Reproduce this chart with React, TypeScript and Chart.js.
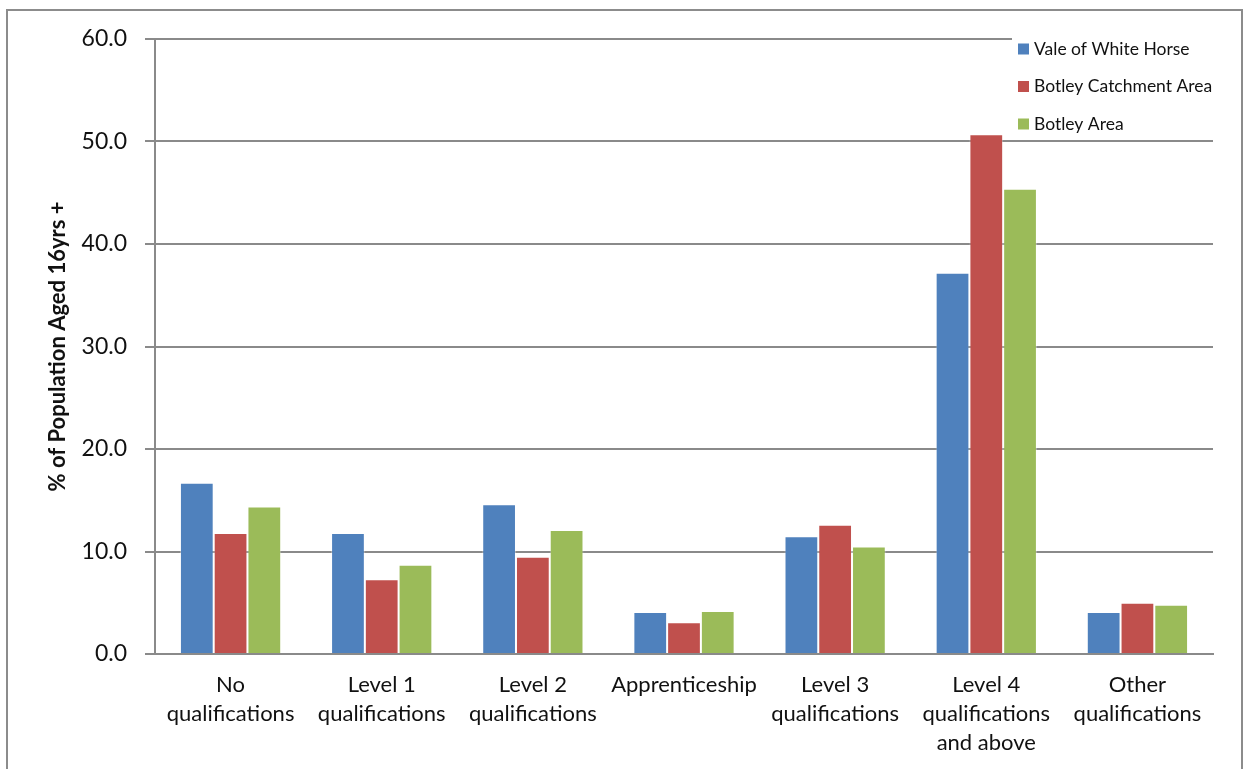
import React, { useEffect, useRef } from "react";
import { Chart, registerables } from "chart.js";

Chart.register(...registerables);

// Qualification categories (multi-line labels)
const categories: string[][] = [
  ["No", "qualifications"],
  ["Level 1", "qualifications"],
  ["Level 2", "qualifications"],
  ["Apprenticeship"],
  ["Level 3", "qualifications"],
  ["Level 4", "qualifications", "and above"],
  ["Other", "qualifications"],
];

const seriesNames = ["Vale of White Horse", "Botley Catchment Area", "Botley Area"];
const seriesColors = ["#4F81BD", "#C0504D", "#9BBB59"];

const valeOfWhiteHorse = [16.7, 11.8, 14.6, 4.1, 11.5, 37.2, 4.1];
const botleyCatchment = [11.8, 7.3, 9.5, 3.1, 12.6, 50.7, 5.0];
const botleyArea = [14.4, 8.7, 12.1, 4.2, 10.5, 45.4, 4.8];

const yTicks = [0, 10, 20, 30, 40, 50, 60];

const FONT = "Lato, 'Open Sans', sans-serif";
const GRID = "#8a8a8a";

// Legend drawn inside the plot, top-right, as a vertical list
const insideLegend = {
  id: "insideLegend",
  afterDatasetsDraw(chart: any) {
    const ctx = chart.ctx;
    const area = chart.chartArea;
    ctx.save();
    ctx.fillStyle = "#ffffff";
    ctx.fillRect(area.right - 201, area.top - 6, 230, 96);
    ctx.font = `17.5px ${FONT}`;
    ctx.textBaseline = "middle";
    ctx.textAlign = "left";
    chart.data.datasets.forEach((ds: any, i: number) => {
      const y = area.top + 10 + i * 37.5;
      const x = area.right - 195;
      ctx.fillStyle = ds.backgroundColor;
      ctx.fillRect(x, y - 5.5, 11, 11);
      ctx.fillStyle = "#111111";
      ctx.fillText(ds.label, x + 16, y);
    });
    ctx.restore();
  },
};

export default function App() {
  const canvasRef = useRef<HTMLCanvasElement | null>(null);

  useEffect(() => {
    if (!canvasRef.current) return;
    const values = [valeOfWhiteHorse, botleyCatchment, botleyArea];
    const chart = new Chart(canvasRef.current, {
      type: "bar",
      data: {
        labels: categories,
        datasets: seriesNames.map((name, i) => ({
          label: name,
          data: values[i],
          backgroundColor: seriesColors[i],
          borderColor: "rgba(255,255,255,0.35)",
          borderWidth: 1,
          barPercentage: 1.0,
          categoryPercentage: 0.67,
        })),
      },
      options: {
        responsive: false,
        animation: false,
        layout: { padding: { top: 39, right: 33, left: 0, bottom: 0 } },
        plugins: {
          legend: { display: false },
          tooltip: { enabled: false },
        },
        scales: {
          x: {
            grid: { display: false, drawTicks: false },
            border: { display: true, color: GRID, width: 2 },
            ticks: {
              color: "#111111",
              font: { family: FONT, size: 22, lineHeight: 1.32 },
              padding: 16,
              maxRotation: 0,
              autoSkip: false,
            },
            afterFit(scale: any) {
              scale.height = 115;
            },
          },
          y: {
            min: 0,
            max: 60,
            afterBuildTicks(scale: any) {
              scale.ticks = yTicks.map((v) => ({ value: v }));
            },
            grid: { color: GRID, lineWidth: 2, tickLength: 10, tickColor: GRID },
            border: { display: true, color: GRID, width: 2 },
            ticks: {
              color: "#111111",
              font: { family: FONT, size: 23 },
              padding: 18,
              callback: (v: any) => Number(v).toFixed(1),
            },
            title: {
              display: true,
              text: "% of Population Aged 16yrs +",
              color: "#111111",
              font: { family: FONT, size: 22, weight: "bold" },
              padding: { top: 45, bottom: 0 },
            },
            afterFit(scale: any) {
              scale.width = 155;
            },
          },
        },
      },
      plugins: [insideLegend],
    });
    return () => chart.destroy();
  }, []);

  return (
    <div
      style={{
        position: "fixed",
        left: 0,
        top: 0,
        width: 1246,
        height: 769,
        background: "#ffffff",
        overflow: "hidden",
      }}
    >
      <canvas ref={canvasRef} width={1246} height={769} style={{ display: "block" }} />
      <div
        style={{
          position: "absolute",
          left: 6,
          top: 9,
          width: 1233,
          height: 800,
          border: "2px solid #8c8c8c",
          pointerEvents: "none",
        }}
      />
    </div>
  );
}
